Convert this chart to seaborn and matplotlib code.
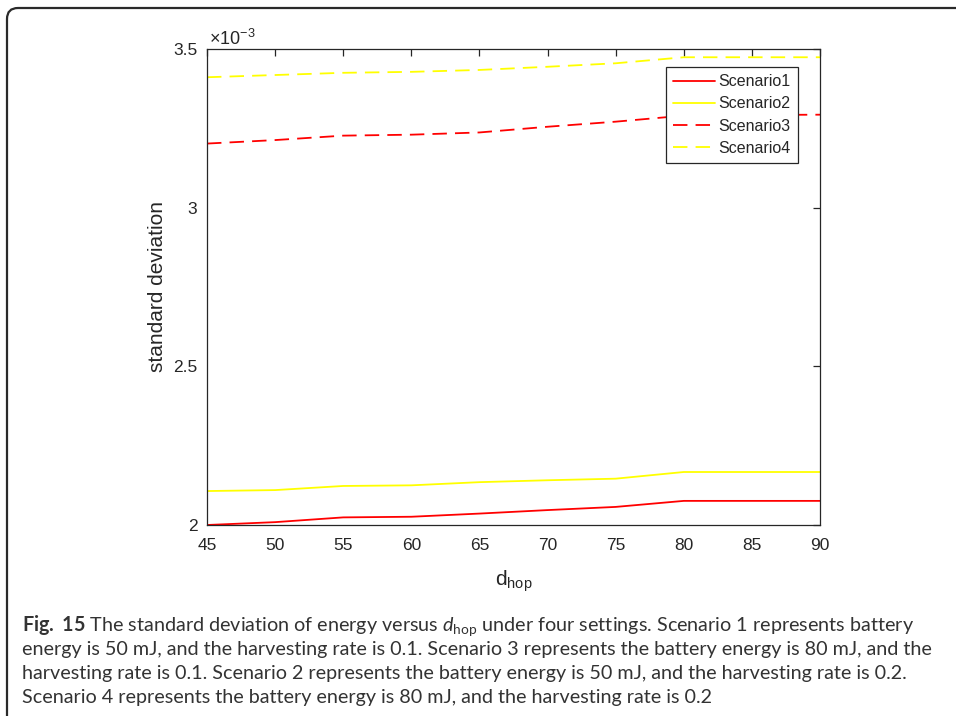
import numpy as np
import pandas as pd
import matplotlib
matplotlib.use("Agg")
import matplotlib.pyplot as plt
import seaborn as sns
from matplotlib.path import Path
from matplotlib.patches import PathPatch
from matplotlib.ticker import FuncFormatter, MultipleLocator

# ---- data -----------------------------------------------------------------
d_hop = [45, 50, 55, 60, 65, 70, 75, 80, 85, 90]
scenario1 = [2.000e-3, 2.009e-3, 2.024e-3, 2.026e-3, 2.036e-3, 2.047e-3, 2.057e-3, 2.076e-3, 2.076e-3, 2.076e-3]
scenario2 = [2.107e-3, 2.110e-3, 2.123e-3, 2.125e-3, 2.135e-3, 2.141e-3, 2.146e-3, 2.167e-3, 2.167e-3, 2.167e-3]
scenario3 = [3.202e-3, 3.213e-3, 3.227e-3, 3.230e-3, 3.237e-3, 3.255e-3, 3.271e-3, 3.290e-3, 3.292e-3, 3.293e-3]
scenario4 = [3.411e-3, 3.418e-3, 3.425e-3, 3.428e-3, 3.434e-3, 3.444e-3, 3.455e-3, 3.474e-3, 3.474e-3, 3.474e-3]
scenario_names = ["Scenario1", "Scenario2", "Scenario3", "Scenario4"]

caption_lines = [
    r"$\mathbf{Fig.\ 15}$ The standard deviation of energy versus $d_{\mathrm{hop}}$ under four settings. Scenario 1 represents battery",
    "energy is 50 mJ, and the harvesting rate is 0.1. Scenario 3 represents the battery energy is 80 mJ, and the",
    "harvesting rate is 0.1. Scenario 2 represents the battery energy is 50 mJ, and the harvesting rate is 0.2.",
    "Scenario 4 represents the battery energy is 80 mJ, and the harvesting rate is 0.2",
]

df = pd.DataFrame({
    "d_hop": d_hop * 4,
    "std": scenario1 + scenario2 + scenario3 + scenario4,
    "scenario": [n for n in scenario_names for _ in d_hop],
})

# ---- style ----------------------------------------------------------------
sns.set_theme(style="white")
plt.rcParams["font.family"] = ["Liberation Sans", "DejaVu Sans"]
plt.rcParams["mathtext.fontset"] = "custom"
plt.rcParams["mathtext.rm"] = "Lato"
plt.rcParams["mathtext.it"] = "Lato:italic"
plt.rcParams["mathtext.bf"] = "Lato:bold"
plt.rcParams["mathtext.sf"] = "Liberation Sans"

W, H = 956, 716
fig = plt.figure(figsize=(W / 100, H / 100), dpi=100)
fig.patch.set_facecolor("white")

def fx(px):
    return px / W

def fy(py):
    return 1 - py / H

ax_l, ax_r, ax_t, ax_b = 207, 820, 49, 525
ax = fig.add_axes([fx(ax_l), fy(ax_b), (ax_r - ax_l) / W, (ax_b - ax_t) / H])

palette = {"Scenario1": "#ff0000", "Scenario2": "#ffff00",
           "Scenario3": "#ff0000", "Scenario4": "#ffff00"}
dashes = {"Scenario1": "", "Scenario2": "", "Scenario3": (8, 4.5), "Scenario4": (8, 4.5)}

sns.lineplot(data=df, x="d_hop", y="std", hue="scenario", style="scenario",
             palette=palette, dashes=dashes, linewidth=1.3, ax=ax)

ax.set_xlim(45, 90)
ax.set_ylim(2e-3, 3.5e-3)
ax.xaxis.set_major_locator(MultipleLocator(5))
ax.yaxis.set_major_locator(MultipleLocator(0.5e-3))
ax.yaxis.set_major_formatter(FuncFormatter(lambda v, p: f"{v * 1e3:g}"))

axis_col = "#262626"
for s in ax.spines.values():
    s.set_visible(True)
    s.set_color(axis_col)
    s.set_linewidth(0.9)
ax.tick_params(direction="in", length=5, width=0.9, color=axis_col,
               top=True, right=True, labelsize=12.5, labelcolor=axis_col)
ax.tick_params(axis="x", pad=9)
ax.tick_params(axis="y", pad=7)

ax.set_xlabel(r"$\mathsf{d}_{\mathsf{hop}}$", fontsize=15, color=axis_col)
ax.set_ylabel("standard deviation", fontsize=15, color=axis_col)
ax.xaxis.set_label_coords(0.5, -0.092)
ax.yaxis.set_label_coords(-0.066, 0.5)

fig.text(fx(209), fy(45), r"$\mathsf{\times 10^{-3}}$", fontsize=13,
         color=axis_col, ha="left", va="baseline")

handles, labels = ax.get_legend_handles_labels()
leg = ax.legend(handles, labels, loc="upper left",
                bbox_to_anchor=((666 - ax_l) / (ax_r - ax_l), 1 - (67 - ax_t) / (ax_b - ax_t)),
                borderaxespad=0, fontsize=11.5, frameon=True, fancybox=False,
                handlelength=2.6, handletextpad=0.25, labelspacing=0.45,
                borderpad=0.45)
leg.get_frame().set_edgecolor(axis_col)
leg.get_frame().set_linewidth(0.9)
leg.get_frame().set_facecolor("white")
leg.get_frame().set_alpha(1)
for t in leg.get_texts():
    t.set_color(axis_col)

# ---- caption --------------------------------------------------------------
line_y = [626, 649, 673, 697]
for txt, yy in zip(caption_lines, line_y):
    fig.text(fx(22), fy(yy), txt, fontsize=14.2, family="Lato",
             color="#333333", ha="left", va="center")

# ---- open rounded frame (top and left edges) ------------------------------
r = 11
x0, y0 = 7, 8
verts = [(fx(W), fy(y0)), (fx(x0 + r), fy(y0)), (fx(x0), fy(y0)),
         (fx(x0), fy(y0 + r)), (fx(x0), fy(H))]
codes = [Path.MOVETO, Path.LINETO, Path.CURVE3, Path.CURVE3, Path.LINETO]
frame = PathPatch(Path(verts, codes), transform=fig.transFigure,
                  facecolor="none", edgecolor="#2a2a2a", linewidth=1.6)
fig.patches.append(frame)

fig.savefig("out.png", dpi=100)
